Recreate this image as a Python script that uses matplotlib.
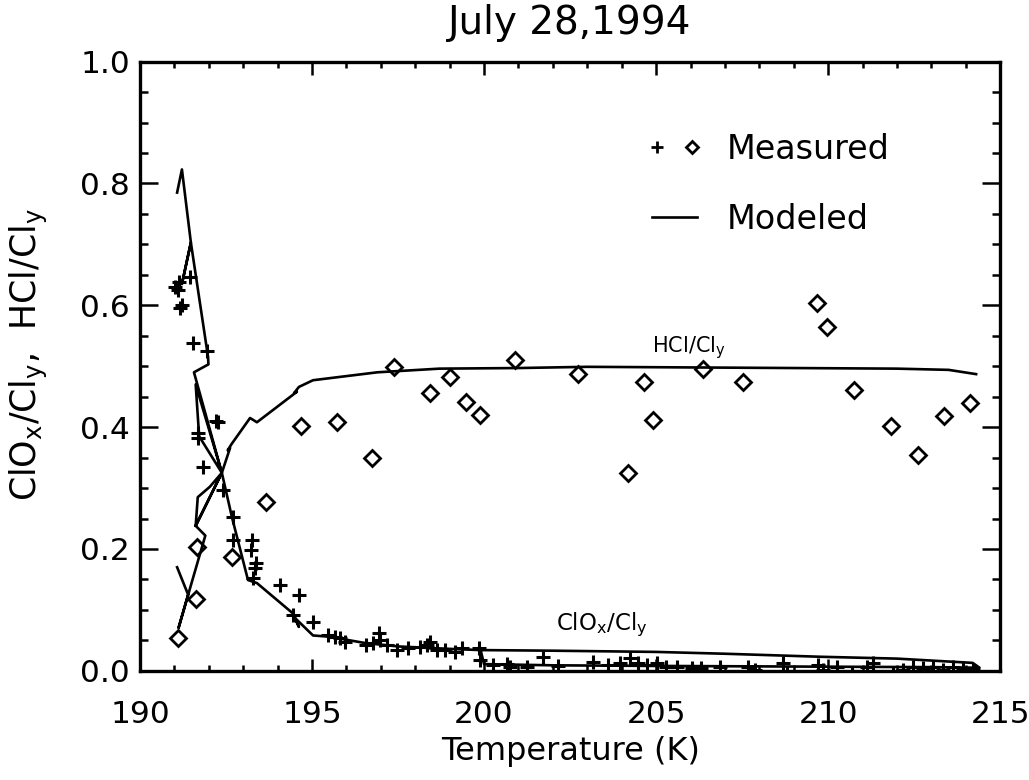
import matplotlib
matplotlib.use("Agg")
import matplotlib.pyplot as plt
from matplotlib.ticker import MultipleLocator
from matplotlib.lines import Line2D
from matplotlib.legend_handler import HandlerTuple

# measured ClOx/Cly (crosses)
clox_T = [191.02, 191.13, 191.10, 191.22, 191.16, 191.45, 191.54, 191.95, 192.27, 192.22,
          191.69, 191.69, 191.83, 192.41, 192.70, 192.70, 193.26, 193.23, 193.37, 193.34,
          193.29, 194.07, 194.62, 194.45, 195.03, 195.47, 195.67, 195.81, 195.96, 196.57,
          196.77, 196.95, 196.98, 197.18, 197.47, 197.79, 198.14, 198.34, 198.43, 198.63,
          198.87, 199.16, 199.36, 199.86, 199.88, 200.26, 200.67, 200.76, 201.25, 201.72,
          202.15, 203.17, 203.60, 203.95, 204.24, 204.48, 204.74, 205.03, 205.30, 205.60,
          206.05, 206.30, 206.86, 207.67, 207.87, 208.70, 208.80, 209.70, 209.85, 210.26,
          210.70, 211.13, 211.30, 211.88, 212.17, 212.47, 212.76, 213.05, 213.34, 213.63,
          213.92, 214.20, 214.35]
clox_meas = [0.630, 0.638, 0.625, 0.600, 0.595, 0.646, 0.538, 0.525, 0.408, 0.410,
             0.390, 0.382, 0.334, 0.297, 0.253, 0.215, 0.215, 0.198, 0.177, 0.169,
             0.152, 0.141, 0.125, 0.092, 0.080, 0.059, 0.056, 0.054, 0.048, 0.043,
             0.046, 0.062, 0.051, 0.043, 0.034, 0.038, 0.039, 0.043, 0.048, 0.034,
             0.034, 0.031, 0.038, 0.038, 0.018, 0.010, 0.011, 0.007, 0.007, 0.023,
             0.008, 0.015, 0.010, 0.013, 0.021, 0.013, 0.010, 0.013, 0.007, 0.007,
             0.005, 0.005, 0.007, 0.007, 0.002, 0.013, -0.003, 0.010, 0.002, 0.007,
             -0.003, 0.007, 0.013, -0.006, 0.002, 0.007, 0.005, 0.007, 0.002, 0.007,
             0.005, 0.002, -0.006]

# measured HCl/Cly (diamonds)
hcl_T = [191.10, 191.63, 191.66, 192.67, 193.66, 194.68, 195.73, 196.74, 197.37, 198.43,
         199.02, 199.49, 199.88, 200.89, 202.72, 204.18, 204.66, 204.92, 206.35, 207.53,
         209.67, 209.96, 210.76, 211.84, 212.62, 213.36, 214.11]
hcl_meas = [0.054, 0.118, 0.203, 0.187, 0.277, 0.402, 0.408, 0.349, 0.498, 0.456,
            0.482, 0.441, 0.420, 0.511, 0.487, 0.325, 0.474, 0.411, 0.495, 0.474,
            0.604, 0.564, 0.461, 0.402, 0.354, 0.418, 0.439]

# modeled ClOx/Cly along the flight track
clox_mod_T = [191.08, 191.22, 191.48, 191.22, 191.48, 191.98, 191.99, 191.57, 192.38, 191.72,
              191.62, 192.38, 192.67, 193.14, 193.40, 194.45, 194.62, 194.50, 195.03, 195.50,
              196.50, 197.50, 199.00, 199.90, 202.00, 205.00, 207.00, 209.80, 212.00, 214.20,
              214.40, 213.00, 209.00, 205.00, 202.00, 200.00, 199.90]
clox_mod = [0.785, 0.823, 0.703, 0.635, 0.703, 0.515, 0.503, 0.490, 0.325, 0.385,
            0.470, 0.325, 0.253, 0.149, 0.144, 0.094, 0.072, 0.087, 0.058, 0.056,
            0.046, 0.040, 0.036, 0.034, 0.033, 0.031, 0.028, 0.023, 0.020, 0.013,
            0.005, 0.006, 0.007, 0.008, 0.009, 0.011, 0.034]

# modeled HCl/Cly along the flight track
hcl_mod_T = [191.08, 191.40, 191.12, 191.90, 191.62, 191.68, 192.03, 192.38, 191.62, 192.38,
             192.62, 192.55, 192.66, 193.20, 193.40, 194.56, 194.48, 194.62, 195.03, 196.90,
             198.70, 201.00, 203.00, 206.00, 209.00, 212.00, 213.50, 214.30]
hcl_mod = [0.170, 0.125, 0.070, 0.222, 0.238, 0.285, 0.302, 0.325, 0.238, 0.325,
           0.366, 0.362, 0.372, 0.415, 0.408, 0.458, 0.456, 0.466, 0.477, 0.490,
           0.496, 0.497, 0.499, 0.498, 0.497, 0.496, 0.494, 0.487]

plt.rcParams['font.family'] = ['DejaVu Sans']
plt.rcParams['mathtext.fontset'] = 'dejavusans'

fig = plt.figure(figsize=(10.29, 7.80), dpi=100)
ax = fig.add_axes([0.136, 0.140, 0.836, 0.781])

ax.plot(clox_mod_T, clox_mod, color='black', lw=1.9)
ax.plot(hcl_mod_T, hcl_mod, color='black', lw=1.9)
ax.plot(clox_T, clox_meas, ls='none', marker='+', ms=10, mew=2.2, color='black')
ax.plot(hcl_T, hcl_meas, ls='none', marker='D', ms=8, mew=2.0, mfc='none', mec='black')

ax.set_xlim(190, 215)
ax.set_ylim(0, 1.0)
ax.xaxis.set_major_locator(MultipleLocator(5))
ax.xaxis.set_minor_locator(MultipleLocator(1))
ax.yaxis.set_major_locator(MultipleLocator(0.2))
ax.yaxis.set_minor_locator(MultipleLocator(0.05))
ax.xaxis.set_major_formatter(lambda v, p: f"{v:.0f}")
ax.yaxis.set_major_formatter(lambda v, p: f"{v:.1f}")

for s in ax.spines.values():
    s.set_linewidth(2.4)
ax.tick_params(which='both', direction='in', top=True, right=True, width=1.8, labelsize=22.5)
ax.tick_params(axis='x', which='major', length=9, pad=21)
ax.tick_params(axis='x', which='minor', length=4.5)
ax.tick_params(axis='y', which='major', length=13, pad=7)
ax.tick_params(axis='y', which='minor', length=6)

ax.set_title('July 28,1994', fontsize=28, pad=20)
ax.set_xlabel('Temperature (K)', fontsize=23, labelpad=5)
ax.set_ylabel(r'ClO$_\mathregular{x}$/Cl$_\mathregular{y}$,  HCl/Cl$_\mathregular{y}$',
              fontsize=25)
ax.yaxis.set_label_coords(-0.105, 0.519)

ax.text(205.96, 0.523, r'HCl/Cl$_\mathregular{y}$', fontsize=15, ha='center', va='baseline')
ax.text(203.43, 0.067, r'ClO$_\mathregular{x}$/Cl$_\mathregular{y}$', fontsize=16.5,
        ha='center', va='baseline')

plus_h = Line2D([], [], ls='none', marker='+', ms=8, mew=2.0, color='black')
dia_h = Line2D([], [], ls='none', marker='D', ms=6.5, mew=2.0, mfc='none', mec='black')
line_h = Line2D([], [], color='black', lw=1.9)
ax.legend([(plus_h, dia_h), line_h], ['Measured', 'Modeled'],
          handler_map={tuple: HandlerTuple(ndivide=None, pad=0.75)},
          loc='upper left', bbox_to_anchor=(0.595, 0.883), frameon=False,
          fontsize=24, handlelength=1.35, handletextpad=0.9, labelspacing=1.1,
          borderpad=0, borderaxespad=0)

fig.savefig('out.png', dpi=100)
